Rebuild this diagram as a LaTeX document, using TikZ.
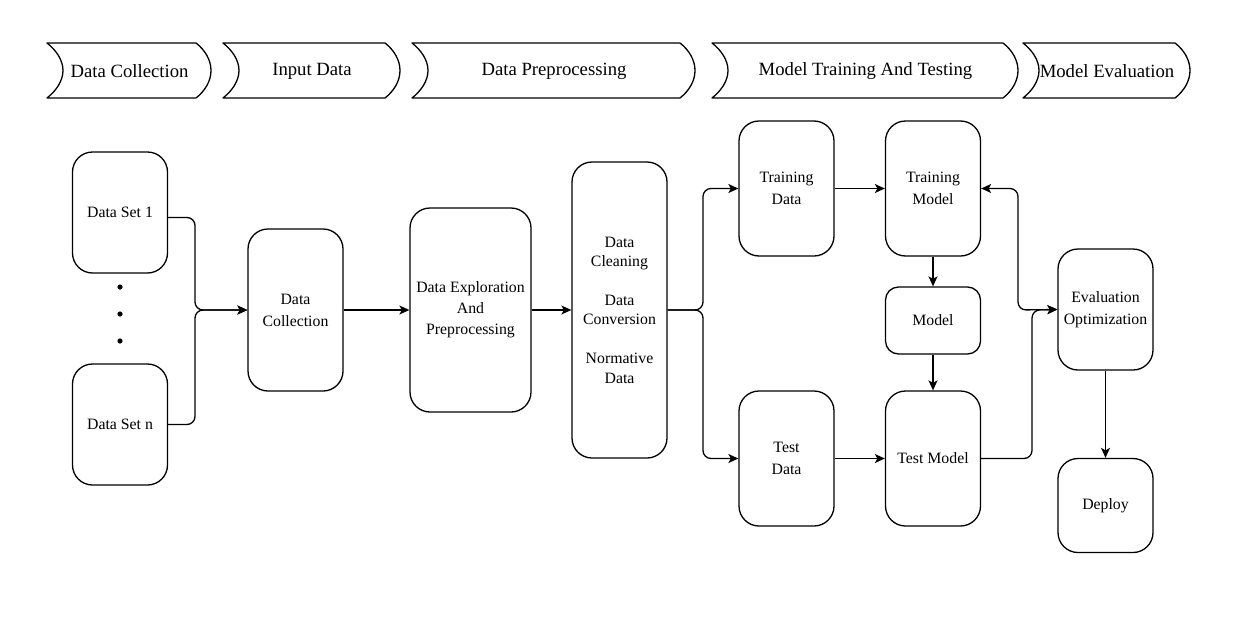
\documentclass[tikz,border=0pt]{standalone}
\usepackage{fontspec}
\setmainfont{Liberation Serif}
\usepackage{tikz}
\usetikzlibrary{arrows.meta}

\begin{document}
\begin{tikzpicture}[x=1pt, y=-1pt, line width=1.3pt,
    box/.style={draw, rounded corners=20pt, minimum width=95pt, align=center, inner sep=2pt, font=\fontsize{15.8}{22}\selectfont},
    arr/.style={-{Stealth[length=10pt, width=9pt, inset=2.5pt]}, rounded corners=8pt},
    arrboth/.style={{Stealth[length=10pt, width=9pt, inset=2.5pt]}-{Stealth[length=10pt, width=9pt, inset=2.5pt]}, rounded corners=8pt}]
        \useasboundingbox (0,0) rectangle (1247,616);

        \foreach \xl/\xr/\txt [count=\i] in {47/211/Data Collection, 223/400/Input Data, 412/695/Data Preprocessing, 712/1018/Model Training And Testing, 1023/1190/Model Evaluation} {
            \draw[line join=round] (\xl,43) .. controls (\xl+9,50) and (\xl+16,60) .. (\xl+16,70.5) .. controls (\xl+16,81) and (\xl+9,91) .. (\xl,98)
                -- (\xr-15,98) .. controls (\xr-6,91) and (\xr,81) .. (\xr,70.5) .. controls (\xr,60) and (\xr-6,50) .. (\xr-15,43) -- cycle;
            \node[font=\fontsize{18.7}{22}\selectfont] (hd\i) at ({(\xl+\xr+1)/2},71.5) {\txt};
        }

        \node[box, minimum height=121pt] (ds1) at (120,212.5) {Data Set 1};
        \node[box, minimum height=121pt] (dsn) at (120,424.5) {Data Set n};
        \foreach \y in {287,314,341}
            \fill (120,\y) circle (2.6pt);

        \node[box, minimum height=162pt] (dcol) at (295.5,310) {Data\\Collection};
        \node[box, minimum width=121pt, minimum height=204pt, font=\fontsize{15.8}{21}\selectfont] (dexp) at (470.5,310) {Data Exploration\\And\\Preprocessing};
        \node[box, minimum height=296pt, font=\fontsize{15.8}{19.4}\selectfont] (dcl) at (619.5,310) {Data\\Cleaning\\[19.4pt]Data\\Conversion\\[19.4pt]Normative\\Data};

        \node[box, minimum height=135pt] (trd) at (786.5,188.5) {Training\\Data};
        \node[box, minimum height=135pt] (tsd) at (786.5,458.5) {Test\\Data};
        \node[box, minimum height=135pt] (trm) at (933,188.5) {Training\\Model};
        \node[box, minimum height=67pt, rounded corners=13pt] (mdl) at (933,320.5) {Model};
        \node[box, minimum height=135pt] (tsm) at (933,458.5) {Test Model};
        \node[box, minimum height=121pt] (ev) at (1105.5,309.5) {Evaluation\\Optimization};
        \node[box, minimum height=94pt] (dep) at (1105.5,505.5) {Deploy};

        \coordinate (mg) at (195,310);
        \coordinate (sp) at (703,310);
        \coordinate (jt) at (1032,310);
        \coordinate (jb) at (1018,310);

        \draw[arr] ([yshift=-5pt]ds1.east) -| (mg) -- (dcol.west);
        \draw[arr] (dsn.east) -| (mg) -- (dcol.west);
        \draw[arr] (dcol) -- (dexp);
        \draw[arr] (dexp) -- (dcl);
        \draw[arr] (dcl.east) -- (sp) |- (trd.west);
        \draw[arr] (dcl.east) -- (sp) |- (tsd.west);
        \draw[arr] (trd) -- (trm);
        \draw[arr] (tsd) -- (tsm);
        \draw[arr] (trm) -- (mdl);
        \draw[arr] (mdl) -- (tsm);
        \draw[arr] (tsm.east) -| (jt) -- (ev.west);
        \draw[arrboth] (trm.east) -| (jb) -- (ev.west);
        \draw[arr] (ev) -- (dep);
    \end{tikzpicture}
\end{document}
